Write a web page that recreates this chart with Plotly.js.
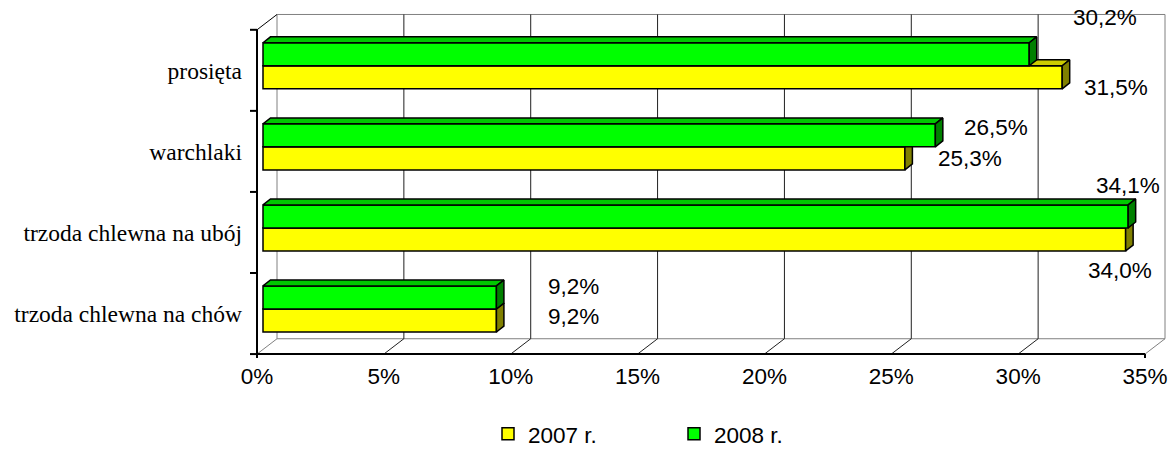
<!DOCTYPE html>
<html>
<head>
<meta charset="utf-8">
<script src="https://cdn.plot.ly/plotly-3.0.1.min.js"></script>
<style>html,body{margin:0;padding:0;background:#fff;}#chart{width:1170px;height:459px;}</style>
</head>
<body>
<div id="chart"></div>
<script>
// ---- data (categories listed bottom to top) ----
const categories = ['trzoda chlewna na chów', 'trzoda chlewna na ubój', 'warchlaki', 'prosięta'];
const values2007 = [9.2, 34.0, 25.3, 31.5];
const values2008 = [9.2, 34.1, 26.5, 30.2];
const seriesNames = ['2007 r.', '2008 r.'];
const xTicks = [0, 5, 10, 15, 20, 25, 30, 35];
const xTickLabels = xTicks.map(t => t + '%');

// ---- layout geometry (pixels) ----
const W = 1170, H = 459;
const PX0 = 257, PXMAX = 1145, PYTOP = 30, PYBOT = 358;   // front plane frame
const WALL_DX = 20, WALL_DY = 15.5;                        // back wall depth offset
const PAD_L = 9, PAD_R = 2, PAD_T = 2.5, PAD_B = 6;
const BAR_FRONT_DX = 6, BAR_H = 23.3, BAR_LIFT = 4.6, BAR_DX = 7.5, BAR_DY = 6;
const TICK_LEN = 7, END_TICK = 4;

const xMax = xTicks[xTicks.length - 1];
const kx = (PXMAX - PX0) / xMax;
const ky = (PYBOT - PYTOP) / categories.length;
const yF0 = -0.5, yF1 = categories.length - 0.5;
const wdx = WALL_DX / kx, wdy = WALL_DY / ky;
const xRange = [-PAD_L / kx, xMax + (WALL_DX + PAD_R) / kx];
const yRange = [yF0 - PAD_B / ky, yF1 + (WALL_DY + PAD_T) / ky];
const margin = {l: PX0 - PAD_L, r: W - (PXMAX + WALL_DX + PAD_R), t: PYTOP - WALL_DY - PAD_T, b: H - (PYBOT + PAD_B), pad: 0};

const base = BAR_FRONT_DX / kx;
const bw = BAR_H / ky;
const lift = BAR_LIFT / ky;
const bdx = BAR_DX / kx, bdy = BAR_DY / ky;
const off2007 = lift - bw, off2008 = lift;
const pos = categories.map((c, i) => i);

const colors = {
  y: {front: '#FFFF00', top: '#CCCC00', side: '#808000'},
  g: {front: '#00FF00', top: '#00C800', side: '#008000'}
};

function seg(arrX, arrY, pts) { pts.forEach(p => { arrX.push(p[0]); arrY.push(p[1]); }); arrX.push(null); arrY.push(null); }

// back wall / floor
const gridX = [], gridY = [], edgeX = [], edgeY = [];
xTicks.forEach((t, k) => {
  const inner = k > 0 && k < xTicks.length - 1;
  const ax = inner ? gridX : edgeX, ay = inner ? gridY : edgeY;
  seg(ax, ay, [[t + wdx, yF0 + wdy], [t + wdx, yF1 + wdy]]);
  seg(ax, ay, [[t, yF0], [t + wdx, yF0 + wdy]]);
});
seg(edgeX, edgeY, [[wdx, yF1 + wdy], [xMax + wdx, yF1 + wdy]]);
seg(edgeX, edgeY, [[wdx, yF0 + wdy], [xMax + wdx, yF0 + wdy]]);
const topDiagX = [], topDiagY = [];
seg(topDiagX, topDiagY, [[0, yF1], [wdx, yF1 + wdy]]);

// front axes
const axX = [], axY = [];
seg(axX, axY, [[0, yF0 - END_TICK / ky], [0, yF1]]);
seg(axX, axY, [[0, yF0], [xMax, yF0]]);
seg(axX, axY, [[xMax, yF0], [xMax, yF0 - END_TICK / ky]]);
for (let j = 0; j <= categories.length; j++) seg(axX, axY, [[-TICK_LEN / kx, j - 0.5], [0, j - 0.5]]);

function faces(vals, off, col, xa) {
  const tx = [], ty = [], sx = [], sy = [];
  vals.forEach((v, i) => {
    const yT = i + off + bw, yB = i + off;
    seg(tx, ty, [[base, yT], [base + v, yT], [base + v + bdx, yT + bdy], [base + bdx, yT + bdy], [base, yT]]);
    seg(sx, sy, [[base + v, yB], [base + v, yT], [base + v + bdx, yT + bdy], [base + v + bdx, yB + bdy], [base + v, yB]]);
  });
  const common = {type: 'scatter', mode: 'lines', fill: 'toself', xaxis: xa, yaxis: 'y', hoverinfo: 'skip', showlegend: false};
  return [
    Object.assign({x: tx, y: ty, fillcolor: col.top, line: {color: '#000', width: 1.5}}, common),
    Object.assign({x: sx, y: sy, fillcolor: col.side, line: {color: '#000', width: 1.5}}, common)
  ];
}

function bar(vals, off, col, name, xa) {
  return {type: 'bar', orientation: 'h', name: name, x: vals, y: pos, base: base, offset: off, width: bw,
    xaxis: xa, yaxis: 'y', marker: {color: col.front, line: {color: '#000', width: 1.5}}, hoverinfo: 'skip'};
}

const lineCommon = {type: 'scatter', mode: 'lines', hoverinfo: 'skip', showlegend: false, xaxis: 'x', yaxis: 'y'};
const data = [
  Object.assign({x: edgeX, y: edgeY, line: {color: '#808080', width: 1}}, lineCommon),
  Object.assign({x: gridX, y: gridY, line: {color: '#202020', width: 1}}, lineCommon),
  Object.assign({x: topDiagX, y: topDiagY, line: {color: '#000', width: 1}}, lineCommon),
  Object.assign({x: axX, y: axY, line: {color: '#000', width: 2}}, lineCommon),
  bar(values2007, off2007, colors.y, seriesNames[0], 'x2'),
  ...faces(values2007, off2007, colors.y, 'x2'),
  bar(values2008, off2008, colors.g, seriesNames[1], 'x3'),
  ...faces(values2008, off2008, colors.g, 'x3')
];

// data labels (nudges in px relative to front bar end / bar centre)
const nudge2007 = [[77, -4], [-6, 31], [65, 0], [54, 10]];
const nudge2008 = [[77, -11], [0, -31], [61, -8], [76, -37]];
const fmt = v => v.toFixed(1).replace('.', ',') + '%';
const labelFont = {family: 'Liberation Sans, Arial, sans-serif', size: 22.5, color: '#000'};
const annotations = [];
[[values2007, off2007, nudge2007], [values2008, off2008, nudge2008]].forEach(([vals, off, nd]) => {
  vals.forEach((v, i) => annotations.push({
    x: base + v, y: i + off + bw / 2, xref: 'x', yref: 'y', text: fmt(v), showarrow: false,
    xanchor: 'center', yanchor: 'middle', xshift: nd[i][0], yshift: -nd[i][1], font: labelFont
  }));
});

const hidden = {overlaying: 'x', range: xRange, visible: false, fixedrange: true};
const plotW = W - margin.l - margin.r, plotH = H - margin.t - margin.b;
const layout = {
  width: W, height: H, autosize: false, margin: margin,
  paper_bgcolor: '#fff', plot_bgcolor: 'rgba(0,0,0,0)',
  barmode: 'overlay', hovermode: false, showlegend: true,
  xaxis: {range: xRange, tickmode: 'array', tickvals: xTicks, ticktext: xTickLabels, showgrid: false, zeroline: false,
    showline: false, ticks: '', tickfont: labelFont, fixedrange: true},
  xaxis2: hidden, xaxis3: Object.assign({}, hidden),
  yaxis: {range: yRange, tickmode: 'array', tickvals: pos, ticktext: categories, showgrid: false, zeroline: false,
    showline: false, ticks: '', ticklabelstandoff: 5,
    tickfont: {family: 'Liberation Serif, Times New Roman, serif', size: 23.5, color: '#000'}, fixedrange: true},
  legend: {orientation: 'h', x: (488 - margin.l) / plotW, xanchor: 'left', y: -(439 - (H - margin.b)) / plotH, yanchor: 'middle',
    font: labelFont, bgcolor: 'rgba(0,0,0,0)', traceorder: 'normal', entrywidth: 141, entrywidthmode: 'pixels'},
  annotations: annotations
};

Plotly.newPlot('chart', data, layout, {displayModeBar: false, staticPlot: true});
</script>
</body>
</html>
